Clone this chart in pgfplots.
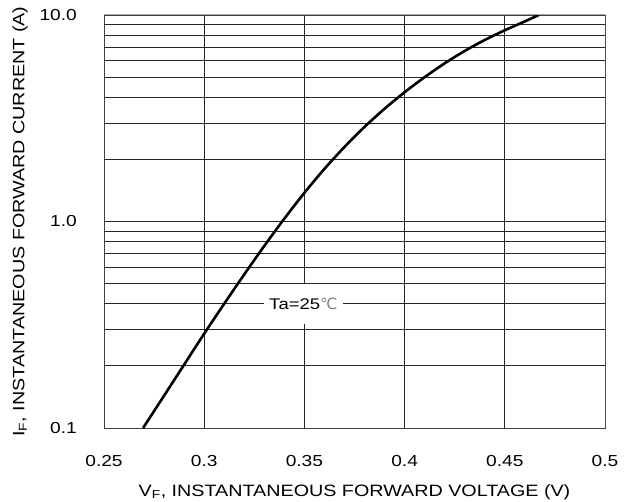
\documentclass[border=0pt]{standalone}
\usepackage{fontspec}
\setmainfont{Liberation Sans}[FakeStretch=1.2]
\newfontfamily\dejavu{DejaVu Sans}
\usepackage{pgfplots}
\pgfplotsset{compat=1.18}

\begin{document}
\begin{tikzpicture}
\useasboundingbox (-104bp,-74bp) rectangle (535bp,428bp);
\begin{axis}[
    scale only axis,
    width=501bp, height=413bp,
    xmin=0.25, xmax=0.5,
    ymin=0.1, ymax=10,
    ymode=log,
    xtick={0.25,0.3,0.35,0.4,0.45,0.5},
    xticklabels={0.25,0.3,0.35,0.4,0.45,0.5},
    ytick={0.1,1,10},
    yticklabels={0.1,1.0,10.0},
    minor ytick={0.2,0.3,0.4,0.5,0.6,0.7,0.8,0.9,2,3,4,5,6,7,8,9},
    major tick length=0pt, minor tick length=0pt,
    xmajorgrids, ymajorgrids, yminorgrids,
    grid style={black!85, line width=0.8bp},
    minor grid style={black!85, line width=0.8bp},
    axis line style={black!75, line width=0.9bp},
    ticklabel style={font=\fontsize{16}{16}\selectfont, inner sep=0pt},
    xticklabel shift=27bp,
    yticklabel shift=27bp,
    label style={font=\fontsize{16.5}{16.5}\selectfont},
    xlabel={V\textsubscript{F}, INSTANTANEOUS FORWARD VOLTAGE (V)},
    ylabel={I\textsubscript{F}, INSTANTANEOUS FORWARD CURRENT (A)},
    xlabel style={at={(axis description cs:0.5,0)}, anchor=base, yshift=-68bp, inner sep=0pt},
    ylabel style={at={(axis description cs:0,0.5)}, anchor=center, yshift=84bp, inner sep=0pt},
]
\addplot[black, line width=2.6bp, smooth] coordinates {
    (0.2695,0.1) (0.28,0.1435) (0.29,0.2028) (0.30,0.2864) (0.31,0.3999)
    (0.32,0.5546) (0.33,0.7621) (0.34,1.033) (0.35,1.377) (0.36,1.799)
    (0.37,2.296) (0.38,2.871) (0.39,3.516) (0.40,4.227) (0.41,5.000)
    (0.42,5.834) (0.43,6.699) (0.44,7.568) (0.45,8.433) (0.46,9.311)
    (0.467,10.0)
};
\draw[black!35, line width=1bp] (rel axis cs:0,1) -- (rel axis cs:1,1) -- (rel axis cs:1,0);
\node[fill=white, inner xsep=5bp, minimum height=40bp,
      font=\fontsize{15.5}{15.5}\selectfont] at (axis cs:0.3495,0.4)
      {Ta=25{\color{gray}\dejavu ℃}};
\end{axis}
\end{tikzpicture}
\end{document}
